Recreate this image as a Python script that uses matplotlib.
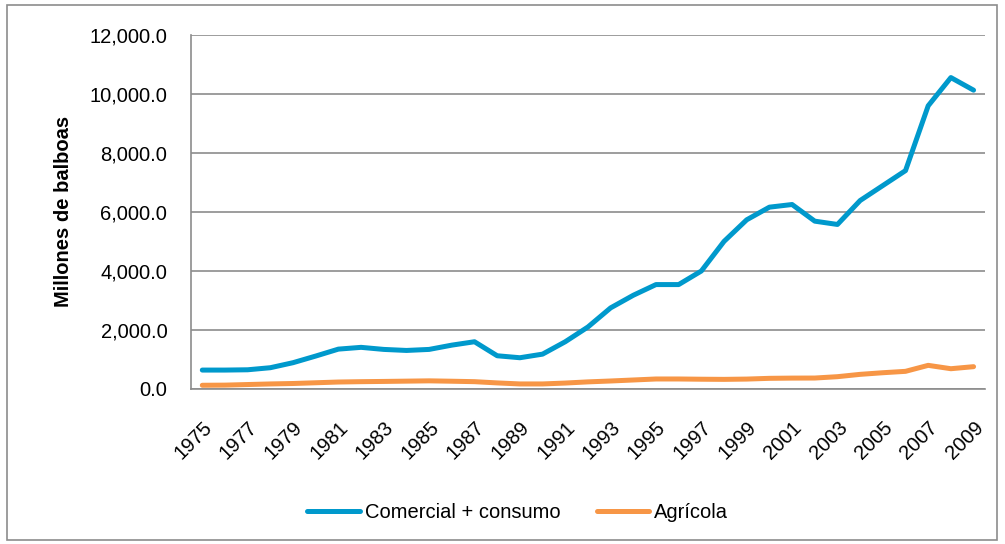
import matplotlib
matplotlib.use("Agg")
import matplotlib.pyplot as plt
from matplotlib.patches import Rectangle

years = list(range(1975, 2010))
comercial = [640, 640, 650, 720, 890, 1115, 1350, 1410, 1340, 1305, 1340, 1485, 1600,
             1125, 1058, 1180, 1600, 2100, 2747, 3175, 3537, 3537, 3997, 5000, 5732,
             6160, 6250, 5686, 5574, 6385, 6892, 7399, 9595, 10551, 10125]
agricola = [125, 130, 150, 170, 185, 210, 235, 247, 255, 265, 275, 262, 247,
            205, 170, 170, 200, 240, 270, 304, 338, 338, 330, 325, 335,
            360, 368, 370, 416, 495, 550, 597, 800, 686, 755]
yticks = [0, 2000, 4000, 6000, 8000, 10000, 12000]

plt.rcParams['font.family'] = ['Liberation Sans', 'DejaVu Sans']

fig = plt.figure(figsize=(10.05, 5.44), dpi=100)
ax = fig.add_axes([0.190, 0.285, 0.790, 0.651])

x = list(range(len(years)))
ax.plot(x, comercial, color="#0099CC", lw=3.6, label="Comercial + consumo", solid_capstyle="round")
ax.plot(x, agricola, color="#F79646", lw=3.6, label="Agrícola", solid_capstyle="round")

ax.set_xlim(-0.5, len(years) - 0.5)
ax.set_ylim(0, 12000)
ax.set_yticks(yticks)
ax.set_yticklabels([f"{v:,.1f}" for v in yticks], fontsize=14.5)
ax.grid(axis="y", color="#8c8c8c", lw=1.2)
ax.set_axisbelow(True)

ax.set_xticks(x[::2])
ax.set_xticklabels([str(y) for y in years[::2]], rotation=45, ha="right",
                   rotation_mode="anchor", fontsize=14.5)
ax.tick_params(axis="x", length=0, pad=21)
ax.tick_params(axis="y", length=0, pad=17)

for s in ["top", "right"]:
    ax.spines[s].set_visible(False)
for s in ["left", "bottom"]:
    ax.spines[s].set_color("#8c8c8c")
    ax.spines[s].set_linewidth(1.2)

ax.set_ylabel("Millones de balboas", fontsize=14.5, fontweight="bold", labelpad=12)

fig.legend(loc="center", bbox_to_anchor=(0.515, 0.058), ncol=2, frameon=False,
           fontsize=14.5, handlelength=2.6, columnspacing=1.8, handletextpad=0.25)

fig.patches.append(Rectangle((0.007, 0.008), 0.985, 0.982, transform=fig.transFigure,
                             fill=False, edgecolor="#8c8c8c", lw=1.2))

fig.savefig("out.png", dpi=100)
